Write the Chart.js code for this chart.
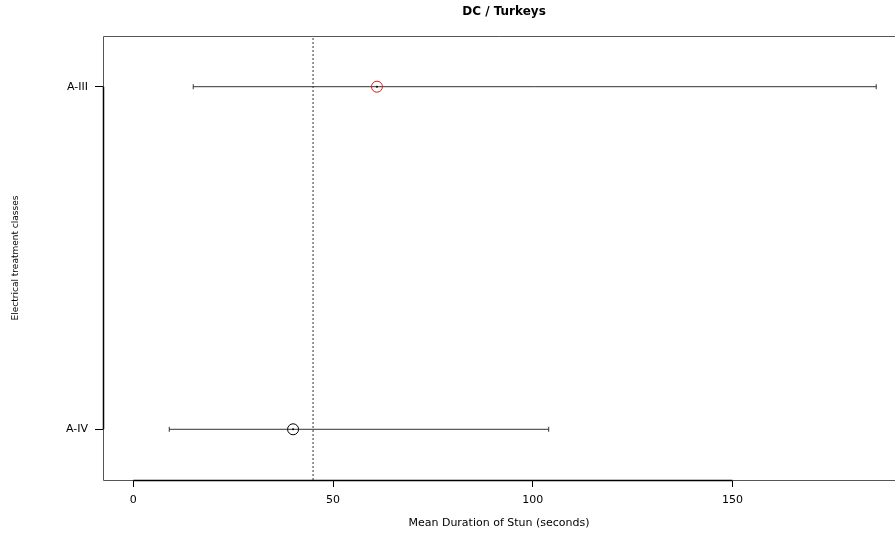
<!DOCTYPE html>
<html lang="en">
<head>
    <meta charset="UTF-8">
    <title>DC / Turkeys</title>
    <script src="https://cdn.jsdelivr.net/npm/chart.js"></script>
    <style>
        body {
            margin: 0;
            padding: 0;
            background: #fff;
        }
        .chart-container {
            width: 895px;
            height: 534px;
        }
    </style>
</head>
<body>
    <div class="chart-container">
        <canvas id="stunChart" width="895" height="534"></canvas>
    </div>

    <script>
        // data
        const classes = ['A-III', 'A-IV'];
        const means = [61, 40];
        const lower = [15, 9];
        const upper = [186, 104];
        const pointColors = ['#e41a1c', '#000000'];
        const refLine = 45;
        const xTicks = [0, 50, 100, 150];

        const FONT = "'DejaVu Sans', sans-serif";
        const yMin = 0.852, yMax = 2.148;
        const yOf = i => classes.length - i;

        const datasets = [];

        // dotted reference line
        datasets.push({
            data: [{ x: refLine, y: yMin }, { x: refLine, y: yMax }],
            showLine: true,
            borderColor: '#333',
            borderWidth: 1,
            borderDash: [2, 2],
            pointRadius: 0,
            order: 4
        });

        // whiskers with caps
        classes.forEach((c, i) => {
            datasets.push({
                data: [{ x: lower[i], y: yOf(i) }, { x: upper[i], y: yOf(i) }],
                showLine: true,
                borderColor: '#333',
                borderWidth: 1,
                pointStyle: 'line',
                rotation: 90,
                pointRadius: 2.5,
                pointBorderColor: '#333',
                pointBorderWidth: 1,
                order: 3
            });
        });

        // mean circles
        datasets.push({
            data: classes.map((c, i) => ({ x: means[i], y: yOf(i) })),
            pointStyle: 'circle',
            pointRadius: 5.5,
            pointBorderWidth: 1,
            pointBorderColor: pointColors,
            pointBackgroundColor: 'rgba(0,0,0,0)',
            order: 2
        });

        // centre dots
        datasets.push({
            data: classes.map((c, i) => ({ x: means[i], y: yOf(i) })),
            pointRadius: 1,
            pointBorderWidth: 0,
            pointBackgroundColor: '#000',
            order: 1
        });

        const frame = {
            id: 'frame',
            afterDraw(chart) {
                const { ctx, chartArea: a, scales } = chart;
                ctx.save();
                ctx.strokeStyle = '#555';
                ctx.lineWidth = 1;
                ctx.beginPath();
                ctx.moveTo(a.right, a.top + 0.5);
                ctx.lineTo(a.left + 0.5, a.top + 0.5);
                ctx.lineTo(a.left + 0.5, a.bottom + 0.5);
                ctx.lineTo(a.right, a.bottom + 0.5);
                ctx.stroke();
                // axis lines between first and last tick
                ctx.strokeStyle = '#000';
                ctx.lineWidth = 1.5;
                ctx.beginPath();
                ctx.moveTo(scales.x.getPixelForValue(xTicks[0]), a.bottom + 0.5);
                ctx.lineTo(scales.x.getPixelForValue(xTicks[xTicks.length - 1]), a.bottom + 0.5);
                ctx.moveTo(a.left + 0.5, scales.y.getPixelForValue(yOf(0)));
                ctx.lineTo(a.left + 0.5, scales.y.getPixelForValue(yOf(classes.length - 1)));
                ctx.stroke();
                // main title, the original plot region runs a little past the right edge
                ctx.fillStyle = '#000';
                ctx.font = 'bold 12px ' + FONT;
                ctx.textAlign = 'center';
                ctx.textBaseline = 'middle';
                ctx.fillText('DC / Turkeys', (a.left + a.right) / 2 + 5, 12);
                ctx.restore();
            }
        };

        const ctx = document.getElementById('stunChart').getContext('2d');
        new Chart(ctx, {
            type: 'scatter',
            data: { datasets },
            options: {
                responsive: false,
                animation: false,
                layout: { autoPadding: false, padding: { top: 36, left: 0, right: 0, bottom: 0 } },
                plugins: {
                    legend: { display: false },
                    tooltip: { enabled: false }
                },
                scales: {
                    x: {
                        type: 'linear',
                        min: -7.59,
                        max: 190.7,
                        afterBuildTicks: s => { s.ticks = xTicks.map(v => ({ value: v })); },
                        afterFit: s => { s.height = 54; s.paddingLeft = 0; s.paddingRight = 0; },
                        grid: {
                            display: true,
                            drawOnChartArea: false,
                            drawTicks: true,
                            tickLength: 7,
                            tickColor: '#000'
                        },
                        border: { display: false },
                        ticks: {
                            padding: 7,
                            color: '#000',
                            font: { family: FONT, size: 11 },
                            maxRotation: 0
                        },
                        title: {
                            display: true,
                            text: 'Mean Duration of Stun (seconds)',
                            color: '#000',
                            font: { family: FONT, size: 11 },
                            padding: { top: 0, bottom: 4 }
                        }
                    },
                    y: {
                        type: 'linear',
                        min: yMin,
                        max: yMax,
                        afterBuildTicks: s => { s.ticks = classes.map((c, i) => ({ value: yOf(i) })); },
                        afterFit: s => { s.width = 103; s.paddingTop = 0; s.paddingBottom = 0; },
                        grid: {
                            display: true,
                            drawOnChartArea: false,
                            drawTicks: true,
                            tickLength: 8,
                            tickColor: '#000'
                        },
                        border: { display: false },
                        ticks: {
                            padding: 7,
                            color: '#000',
                            font: { family: FONT, size: 11 },
                            callback: v => classes[classes.length - v]
                        },
                        title: {
                            display: true,
                            text: 'Electrical treatment classes',
                            color: '#000',
                            font: { family: FONT, size: 9 },
                            padding: { top: 10, bottom: 0 }
                        }
                    }
                }
            },
            plugins: [frame]
        });
    </script>
</body>
</html>
